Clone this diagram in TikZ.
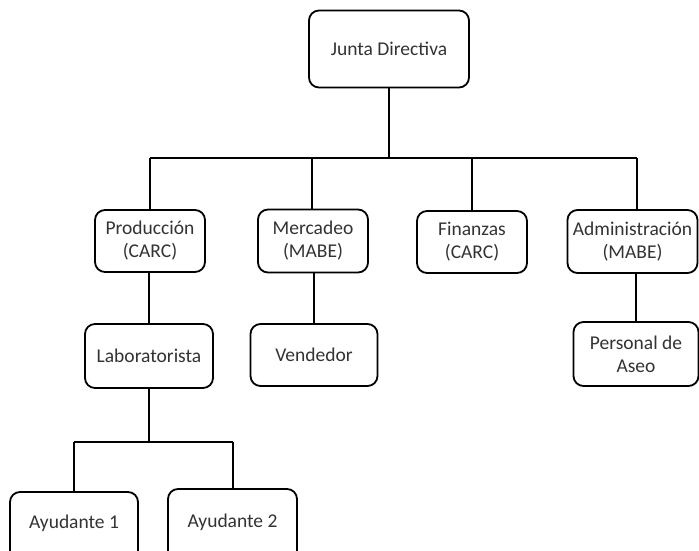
\documentclass[tikz,border=0pt]{standalone}
\usepackage{fontspec}
\setmainfont{Carlito}
\begin{document}
\begin{tikzpicture}[x=1pt,y=-1pt,
  orgbox/.style={draw=black, line width=1.8pt, rounded corners=10pt, fill=white,
    inner sep=0pt, align=center, text=black!80,
    font=\fontsize{19.5}{23}\selectfont},
  link/.style={draw=black, line width=1.8pt}]
\useasboundingbox (0,0) rectangle (699,550);
\clip (0,0) rectangle (699,550);
% nodes
\node[orgbox, minimum width=160pt, minimum height=77pt] (junta) at (389,49) {Junta Directiva};
\node[orgbox, minimum width=110pt, minimum height=62pt] (prod) at (150,241) {Producción\\(CARC)};
\node[orgbox, minimum width=110pt, minimum height=63pt] (merc) at (313,241) {Mercadeo\\(MABE)};
\node[orgbox, minimum width=110pt, minimum height=62pt] (fin) at (472,242) {Finanzas\\(CARC)};
\node[orgbox, minimum width=130pt, minimum height=63pt] (adm) at (632.5,241.5) {Administración\\(MABE)};
\node[orgbox, minimum width=128pt, minimum height=64pt] (lab) at (149,356) {Laboratorista};
\node[orgbox, minimum width=127pt, minimum height=62pt] (vend) at (314,355) {Vendedor};
\node[orgbox, minimum width=125pt, minimum height=64pt] (pers) at (636,354) {Personal de\\Aseo};
\node[orgbox, minimum width=128pt, minimum height=72pt] (ay1) at (74,528) {\smash{Ayudante 1}};
\node[orgbox, minimum width=129pt, minimum height=76pt] (ay2) at (232.5,527) {\smash{Ayudante 2}};
% bus coordinates
\coordinate (top) at (389,158);
\coordinate (b1) at (150,158);
\coordinate (b2) at (312,158);
\coordinate (b3) at (472,158);
\coordinate (b4) at (637,158);
\coordinate (lbus) at (149,442);
\coordinate (l1) at (74,442);
\coordinate (l2) at (233,442);
% connectors
\draw[link] (junta.south) -- (top);
\draw[link] (b1) -- (b4);
\draw[link] (b1) -- (b1 |- prod.north);
\draw[link] (b2) -- (b2 |- merc.north);
\draw[link] (b3) -- (b3 |- fin.north);
\draw[link] (b4) -- (b4 |- adm.north);
\draw[link] (prod.south -| lab.north) -- (lab.north);
\draw[link] (merc.south -| vend.north) -- (vend.north);
\draw[link] (adm.south -| pers.north) -- (pers.north);
\draw[link] (lab.south) -- (lbus);
\draw[link] (l1) -- (l2);
\draw[link] (l1) -- (l1 |- ay1.north);
\draw[link] (l2) -- (l2 |- ay2.north);
\end{tikzpicture}
\end{document}
